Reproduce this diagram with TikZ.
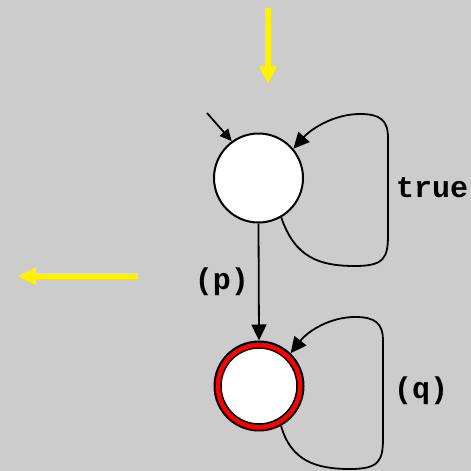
\documentclass[tikz,border=0pt]{standalone}
\usepackage{fontspec}
\setmonofont{Liberation Mono}
\usetikzlibrary{arrows.meta}
\begin{document}
\begin{tikzpicture}[x=1pt,y=-1pt,
  state/.style={circle,draw=black,line width=2pt,fill=white,minimum size=89pt,inner sep=0pt},
  acc/.style={circle,draw=black,line width=2pt,fill=red,minimum size=89pt,inner sep=0pt},
  edge/.style={line width=1.8pt,-{Triangle[length=16pt,width=15pt]}},
  lbl/.style={font=\ttfamily\bfseries\fontsize{30}{34}\selectfont,inner sep=0pt},
  yarrow/.style={fill=yellow,draw=none}]
\fill[fill=black!20] (0,0) rectangle (471,471);
\useasboundingbox (0,0) rectangle (471,471);
% yellow arrows
\fill[yarrow] (265,8) -- (271,8) -- (271,66) -- (277,66) -- (268,83) -- (259,66) -- (265,66) -- cycle;
\fill[yarrow] (138,273) -- (138,279) -- (36,279) -- (36,285) -- (18,276) -- (36,267) -- (36,273) -- cycle;
% states
\node[state] (A) at (258.5,178) {};
\node[acc] (B) at (259,386) {};
\draw[black,line width=1.5pt,fill=white] (B.center) circle (38);
% initial arrow
\coordinate (i) at (207,113);
\draw[line width=1.8pt,-{Triangle[length=12pt,width=11pt]}] (i) -- (A.126);
% edge
\draw[edge] (A.south) -- (B.north);
\node[lbl,anchor=base east] (lp) at (249,289) {(p)};
% loops
\draw[edge] (A.-60) .. controls (295,258) and (320,266) .. (355,266)
  .. controls (384,266) and (388,258) .. (388,235) -- (388,138)
  .. controls (388,120) and (380,114) .. (360,114)
  .. controls (335,114) and (312,128) .. (A.40);
\node[lbl,anchor=base west] (lt) at (396,197) {true};
\draw[edge] (B.-61) .. controls (291,461) and (316,469) .. (350,469)
  .. controls (379,469) and (383,461) .. (383,438) -- (383,341)
  .. controls (383,323) and (375,317) .. (355,317)
  .. controls (330,317) and (308,331) .. (B.46);
\node[lbl,anchor=base west] (lq) at (394,398) {(q)};
\end{tikzpicture}
\end{document}
